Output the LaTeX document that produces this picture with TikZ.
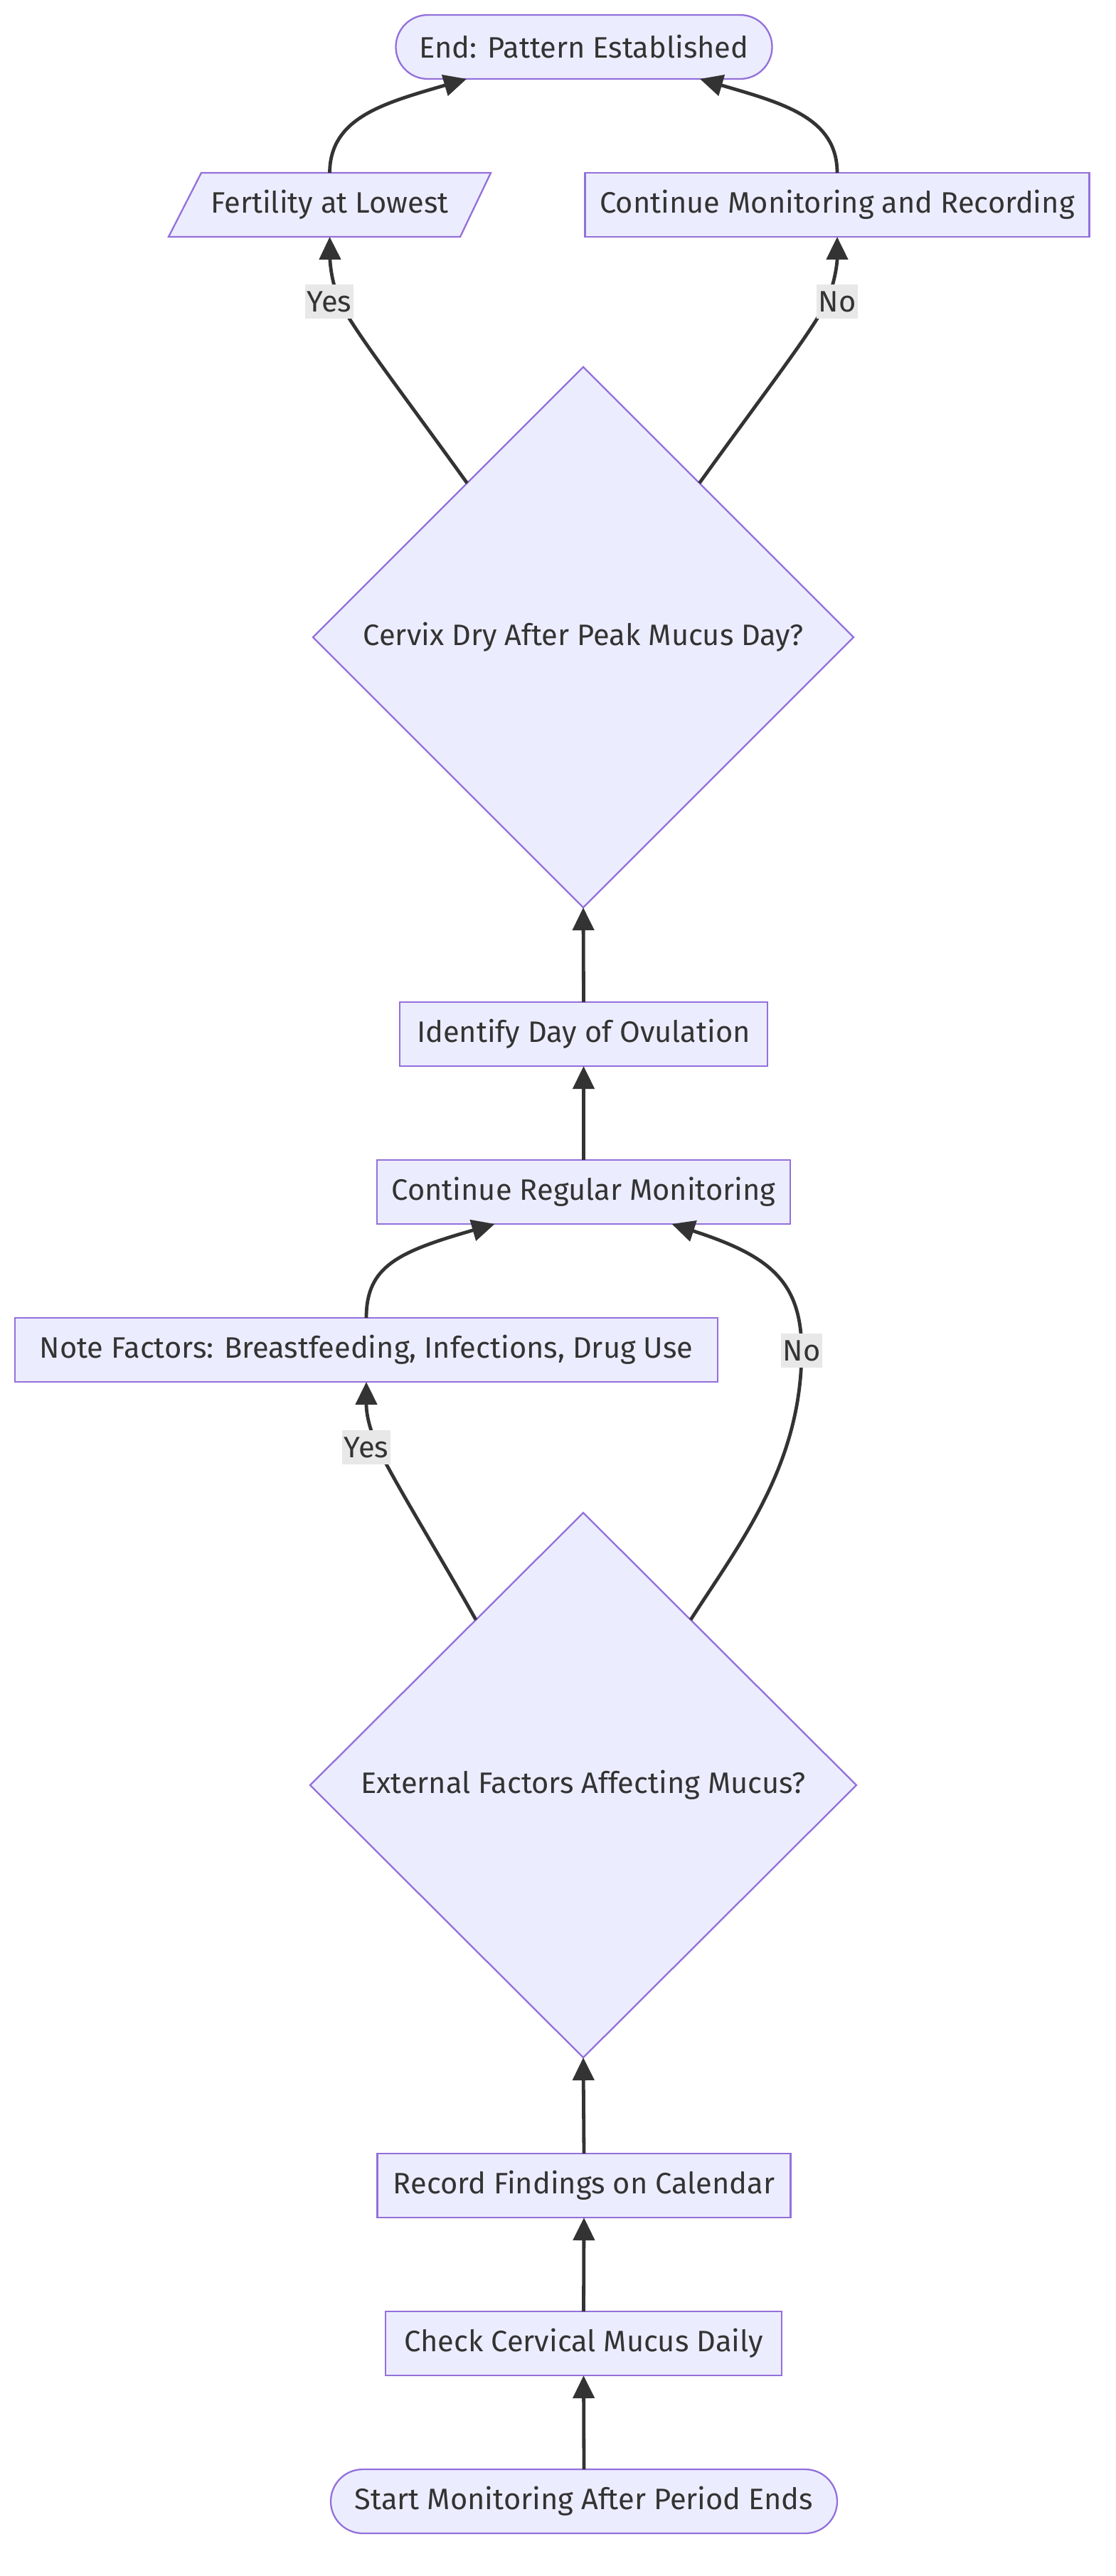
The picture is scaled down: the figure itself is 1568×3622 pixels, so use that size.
\documentclass[tikz,border=0pt]{standalone}
\usepackage{fontspec}
\setmainfont{Fira Sans}
\usetikzlibrary{shapes.geometric,arrows.meta,calc}
\definecolor{nodefill}{HTML}{ECECFF}
\definecolor{nodeline}{HTML}{9370DB}
\definecolor{edgecol}{HTML}{333333}
\definecolor{textcol}{HTML}{333333}
\definecolor{labelbg}{HTML}{E8E8E8}
\begin{document}
\begin{tikzpicture}[x=0.5pt,y=-0.5pt,
  font=\fontsize{20.8pt}{24pt}\selectfont, text=textcol,
  box/.style={draw=nodeline, fill=nodefill, line width=1.15pt, minimum height=45pt, inner sep=0pt, outer sep=0pt},
  stadium/.style={box, rounded corners=22.5pt},
  decision/.style={box, diamond, aspect=1},
  plain/.style={minimum height=45pt, inner sep=0pt, outer sep=0pt},
  arr/.style={draw=edgecol, line width=2.4pt, -{Triangle[length=16pt,width=15pt]}},
  lbl/.style={fill=labelbg, inner xsep=1.5pt, inner ysep=0pt, minimum height=24pt, text=textcol}
]
\useasboundingbox[fill=white] (0,0) rectangle (1568,3622);

% nodes
\node[stadium, minimum width=264.5pt] (endn) at (821,66) {End: Pattern Established};
\draw[draw=nodeline, fill=nodefill, line width=1.15pt] (237,333) -- (283,243) -- (690,243) -- (647,333) -- cycle;
\node[plain, minimum width=226.5pt] (fert) at (463.5,288) {Fertility at Lowest};
\node[box, minimum width=354.5pt] (cmr) at (1177,288) {Continue Monitoring and Recording};
\node[decision, minimum width=380pt, minimum height=380pt] (cervix) at (820,896) {Cervix Dry After Peak Mucus Day?};
\node[box, minimum width=258.5pt] (ident) at (820.5,1454) {Identify Day of Ovulation};
\node[box, minimum width=290.5pt] (creg) at (820.5,1676) {Continue Regular Monitoring};
\node[box, minimum width=494pt] (note) at (515,1898) {Note Factors: Breastfeeding, Infections, Drug Use};
\node[decision, minimum width=384pt, minimum height=383pt] (ext) at (820,2510) {External Factors Affecting Mucus?};
\node[box, minimum width=290.5pt] (rec) at (821,3073) {Record Findings on Calendar};
\node[box, minimum width=278.5pt] (check) at (820.5,3295) {Check Cervical Mucus Daily};
\node[stadium, minimum width=356pt] (start) at (821,3517) {Start Monitoring After Period Ends};

% label anchors
\coordinate (ly1) at (476,420);
\coordinate (ln1) at (1164,420);
\coordinate (ly2) at (531,2035);
\coordinate (ln2) at (1127,1899);

% edges
\draw[arr] (start.north) -- (check.south);
\draw[arr] (check.north) -- (rec.south);
\draw[arr] (rec.north) -- (ext.south);
\draw[arr] (ext.123) .. controls (620,2190) and (555,2085) .. (ly2) .. controls (520,2010) and (515,1990) .. (note.south);
\draw[arr] (ext.57) .. controls (1040,2170) and (1127,2060) .. (ln2) .. controls (1127,1800) and (1080,1765) .. ($(creg.south)+(124,0)$);
\draw[arr] (note.north) .. controls (515,1780) and (560,1760) .. ($(creg.south)+(-125,0)$);
\draw[arr] (creg.north) -- (ident.south);
\draw[arr] (ident.north) -- (cervix.south);
\draw[arr] (cervix.127) .. controls (560,545) and (490,455) .. (ly1) .. controls (466,395) and (464,370) .. (fert.south);
\draw[arr] (cervix.53) .. controls (1080,545) and (1150,455) .. (ln1) .. controls (1174,395) and (1177,370) .. (cmr.south);
\draw[arr] (fert.north) .. controls (464,165) and (540,145) .. ($(endn.south)+(-165,0)$);
\draw[arr] (cmr.north) .. controls (1177,165) and (1100,145) .. ($(endn.south)+(163,0)$);

% edge labels
\node[lbl] (lyes1) at (463,424) {Yes};
\node[lbl] (lno1) at (1177,424) {No};
\node[lbl] (lyes2) at (515,2035) {Yes};
\node[lbl] (lno2) at (1127,1899) {No};
\end{tikzpicture}
\end{document}
